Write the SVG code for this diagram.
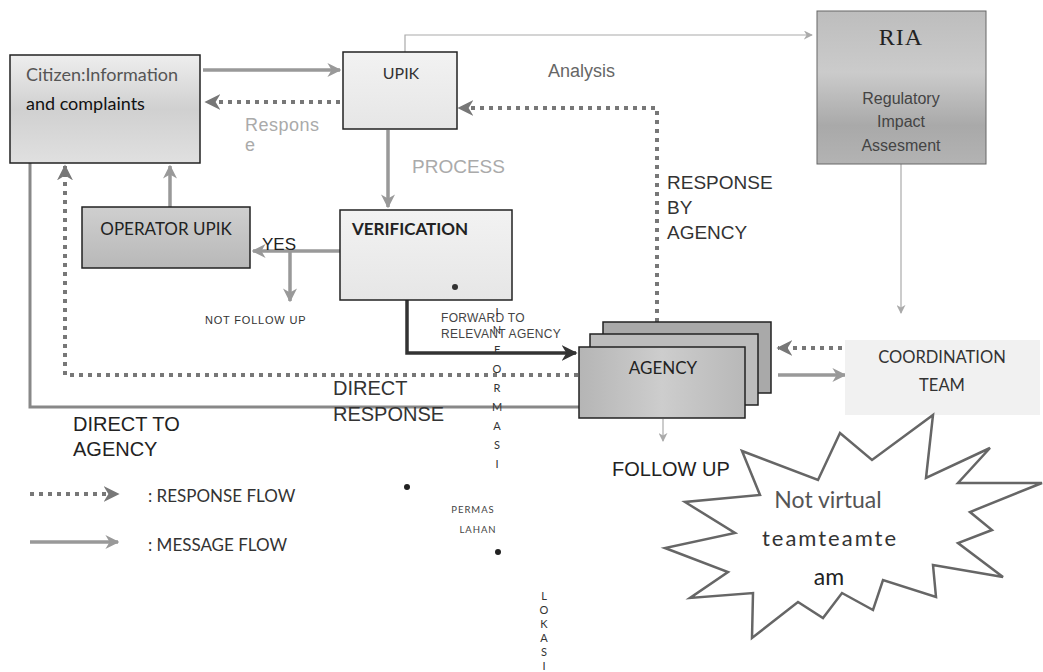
<svg xmlns="http://www.w3.org/2000/svg" width="1043" height="672" viewBox="0 0 1043 672">
<style>
.box{stroke:#222;stroke-width:1.5}
.cal{font-family:Lato,"Open Sans","Liberation Sans",sans-serif}
.ari{font-family:"Liberation Sans",Arial,sans-serif}
.msg{fill:none;stroke:#999;stroke-width:3.5}
.rsp{fill:none;stroke:#777;stroke-width:4;stroke-dasharray:4 5}
.thin{fill:none;stroke:#aaa;stroke-width:1.2}
.vl{font-family:Lato,"Open Sans",sans-serif;font-size:11px;fill:#333;text-anchor:middle}
</style>
<defs>
<linearGradient id="gCit" x1="0" y1="0" x2="0" y2="1"><stop offset="0" stop-color="#eeeeee"/><stop offset="0.5" stop-color="#d0d0d0"/><stop offset="1" stop-color="#e0e0e0"/></linearGradient>
<linearGradient id="gLight" x1="0" y1="0" x2="0" y2="1"><stop offset="0" stop-color="#f2f2f2"/><stop offset="1" stop-color="#e6e6e6"/></linearGradient>
<linearGradient id="gOp" x1="0" y1="0" x2="0" y2="1"><stop offset="0" stop-color="#cfcfcf"/><stop offset="1" stop-color="#b8b8b8"/></linearGradient>
<linearGradient id="gAg" x1="0" y1="0" x2="1" y2="0"><stop offset="0" stop-color="#b5b5b5"/><stop offset="0.5" stop-color="#cdcdcd"/><stop offset="1" stop-color="#b8b8b8"/></linearGradient>
<linearGradient id="gRia" x1="0" y1="0" x2="0" y2="1"><stop offset="0" stop-color="#bdbdbd"/><stop offset="0.4" stop-color="#cbcbcb"/><stop offset="0.75" stop-color="#a9a9a9"/><stop offset="1" stop-color="#b3b3b3"/></linearGradient>
<marker id="mh" viewBox="0 0 10 10" refX="9" refY="5" markerWidth="14" markerHeight="14" markerUnits="userSpaceOnUse" orient="auto"><path d="M0,0 L10,5 L0,10 L3,5 z" fill="#999"/></marker>
<marker id="dh" viewBox="0 0 10 10" refX="9" refY="5" markerWidth="16" markerHeight="16" markerUnits="userSpaceOnUse" orient="auto"><path d="M0,0 L10,5 L0,10 L3,5 z" fill="#777"/></marker>
<marker id="kh" viewBox="0 0 10 10" refX="9" refY="5" markerWidth="16" markerHeight="16" markerUnits="userSpaceOnUse" orient="auto"><path d="M0,0 L10,5 L0,10 L3,5 z" fill="#333"/></marker>
<marker id="th" viewBox="0 0 10 10" refX="9" refY="5" markerWidth="9" markerHeight="9" markerUnits="userSpaceOnUse" orient="auto"><path d="M0,0 L10,5 L0,10 L3,5 z" fill="#aaa"/></marker>
</defs>

<g id="connectors">
<path class="thin" d="M405,52 V35 H812" marker-end="url(#th)"/>
<path class="msg" d="M203,70 H340" marker-end="url(#mh)"/>
<path class="rsp" d="M340,102 H206" marker-end="url(#dh)"/>
<path class="rsp" d="M657,322 V108 H459" marker-end="url(#dh)"/>
<path class="msg" d="M388,130 V207" stroke="#888" stroke-width="4" marker-end="url(#mh)"/>
<path class="msg" d="M170,207 V166" stroke="#888" marker-end="url(#mh)"/>
<path class="msg" d="M340,251 H253" stroke="#888" marker-end="url(#mh)"/>
<path class="msg" d="M290,251 V301" stroke="#888" stroke-width="3" marker-end="url(#mh)"/>
<path d="M407,300 V353 H576" fill="none" stroke="#333" stroke-width="3.5" marker-end="url(#kh)"/>
<path class="rsp" d="M578,375 H65 V166" marker-end="url(#dh)"/>
<path d="M30,163 V407 H580" fill="none" stroke="#888" stroke-width="3"/>
<path class="thin" d="M901,164 V313" marker-end="url(#th)"/>
<path class="rsp" d="M842,348 H778" marker-end="url(#dh)"/>
<path class="msg" d="M778,375 H845" marker-end="url(#mh)"/>
<path class="thin" d="M663,419 V441" stroke="#999" marker-end="url(#th)"/>
</g>

<g id="citizen">
<rect class="box" x="10" y="55" width="190" height="108" fill="url(#gCit)"/>
<text class="cal" x="26" y="81" font-size="18" fill="#555">Citizen:Information</text>
<text class="cal" x="26" y="110" font-size="18" fill="#111">and complaints</text>
</g>

<g id="upik">
<rect class="box" x="343" y="52" width="114" height="77" fill="url(#gLight)"/>
<text class="cal" x="401" y="79" font-size="16" fill="#333" text-anchor="middle">UPIK</text>
</g>

<g id="ria">
<rect x="817" y="11" width="169" height="153" fill="url(#gRia)" stroke="#666" stroke-width="1"/>
<text x="901" y="45" font-family="'Liberation Serif','Times New Roman',serif" font-size="24" letter-spacing="1" fill="#222" text-anchor="middle">RIA</text>
<text class="ari" x="901" y="104" font-size="16" fill="#444" text-anchor="middle">Regulatory</text>
<text class="ari" x="901" y="127" font-size="16" fill="#444" text-anchor="middle">Impact</text>
<text class="ari" x="901" y="151" font-size="16" fill="#444" text-anchor="middle">Assesment</text>
</g>

<g id="operator">
<rect class="box" x="82" y="207" width="168" height="61" fill="url(#gOp)"/>
<text class="cal" x="166" y="235" font-size="17" fill="#222" text-anchor="middle">OPERATOR UPIK</text>
</g>

<g id="verification">
<rect class="box" x="340" y="210" width="172" height="90" fill="url(#gLight)"/>
<text class="cal" x="352" y="235" font-size="17" font-weight="bold" fill="#222">VERIFICATION</text>
<circle cx="455" cy="287" r="3" fill="#333"/>
</g>

<g id="agency">
<rect class="box" x="603" y="322" width="168" height="71" fill="#a9a9a9"/>
<rect class="box" x="590" y="334" width="168" height="71" fill="#bcbcbc"/>
<rect class="box" x="579" y="347" width="166" height="71" fill="url(#gAg)"/>
<text class="cal" x="663" y="374" font-size="17" fill="#222" text-anchor="middle">AGENCY</text>
</g>

<g id="coordination">
<rect x="845" y="340" width="195" height="75" fill="#f1f1f1"/>
<text class="cal" x="942" y="363" font-size="16.5" fill="#333" text-anchor="middle">COORDINATION</text>
<text class="cal" x="942" y="391" font-size="16.5" fill="#333" text-anchor="middle">TEAM</text>
</g>

<g id="star">
<polygon points="742,451 818,480 840,433 872,460 933,415 926,478 990,448 958,483 1042,483 970,512 992,530 958,543 1003,577 933,565 936,597 883,580 873,610 842,593 823,618 798,602 752,638 753,593 690,598 728,572 665,548 735,533 685,502 760,495" fill="#fff" stroke="#666" stroke-width="2.5" stroke-linejoin="miter"/>
<text class="cal" x="828" y="508" font-size="23" fill="#555" text-anchor="middle">Not virtual</text>
<text class="cal" x="830" y="546" font-size="22" letter-spacing="2" fill="#333" text-anchor="middle">teamteamte</text>
<text class="cal" x="829" y="585" font-size="23" fill="#222" text-anchor="middle">am</text>
</g>

<g id="labels">
<text class="ari" x="245" y="131" font-size="18" letter-spacing="0.5" fill="#aaa">Respons</text>
<text class="ari" x="245" y="151" font-size="18" fill="#aaa">e</text>
<text class="ari" x="548" y="77" font-size="18" fill="#666">Analysis</text>
<text class="ari" x="412" y="173" font-size="19" fill="#aaa">PROCESS</text>
<text class="ari" x="667" y="189" font-size="19" fill="#333">RESPONSE</text>
<text class="ari" x="667" y="214" font-size="19" fill="#333">BY</text>
<text class="ari" x="667" y="239" font-size="19" fill="#333">AGENCY</text>
<text class="ari" x="262" y="250" font-size="17" fill="#222">YES</text>
<text class="ari" x="205" y="324" font-size="11" letter-spacing="0.8" fill="#333">NOT FOLLOW UP</text>
<text class="ari" x="441" y="322" font-size="12" letter-spacing="0.3" fill="#444">FORWARD TO</text>
<text class="ari" x="441" y="338" font-size="12" letter-spacing="0.3" fill="#444">RELEVANT AGENCY</text>
<text class="ari" x="333" y="395" font-size="20" fill="#333">DIRECT</text>
<text class="ari" x="333" y="421" font-size="20" fill="#333">RESPONSE</text>
<text class="ari" x="73" y="431" font-size="20" fill="#222">DIRECT TO</text>
<text class="ari" x="73" y="456" font-size="20" fill="#222">AGENCY</text>
<text class="ari" x="612" y="476" font-size="20" fill="#222">FOLLOW UP</text>
</g>

<g id="vertical-text">
<text class="vl" x="497" y="316" fill="#888">I</text>
<text class="vl" x="497" y="334" fill="#666">N</text>
<text class="vl" x="497" y="354" fill="#777">F</text>
<text class="vl" x="497" y="373">O</text>
<text class="vl" x="497" y="392">R</text>
<text class="vl" x="497" y="411">M</text>
<text class="vl" x="497" y="430">A</text>
<text class="vl" x="497" y="449">S</text>
<text class="vl" x="497" y="468">I</text>
<text x="473" y="513" font-family="Lato,sans-serif" font-size="9.5" fill="#444" text-anchor="middle" letter-spacing="1">PERMAS</text>
<text x="478" y="533" font-family="Lato,sans-serif" font-size="9.5" fill="#444" text-anchor="middle" letter-spacing="1">LAHAN</text>
<circle cx="407" cy="487" r="3" fill="#222"/>
<circle cx="498" cy="552" r="3" fill="#222"/>
<text class="vl" x="544" y="600">L</text>
<text class="vl" x="544" y="614">O</text>
<text class="vl" x="544" y="628">K</text>
<text class="vl" x="544" y="642">A</text>
<text class="vl" x="544" y="656">S</text>
<text class="vl" x="544" y="670">I</text>
</g>

<g id="legend">
<path class="rsp" d="M30,494 H118" marker-end="url(#dh)"/>
<path class="msg" d="M30,542 H118" marker-end="url(#mh)"/>
<text class="cal" x="148" y="502" font-size="17" fill="#333">: RESPONSE FLOW</text>
<text class="cal" x="148" y="551" font-size="17" fill="#333">: MESSAGE FLOW</text>
</g>
</svg>
